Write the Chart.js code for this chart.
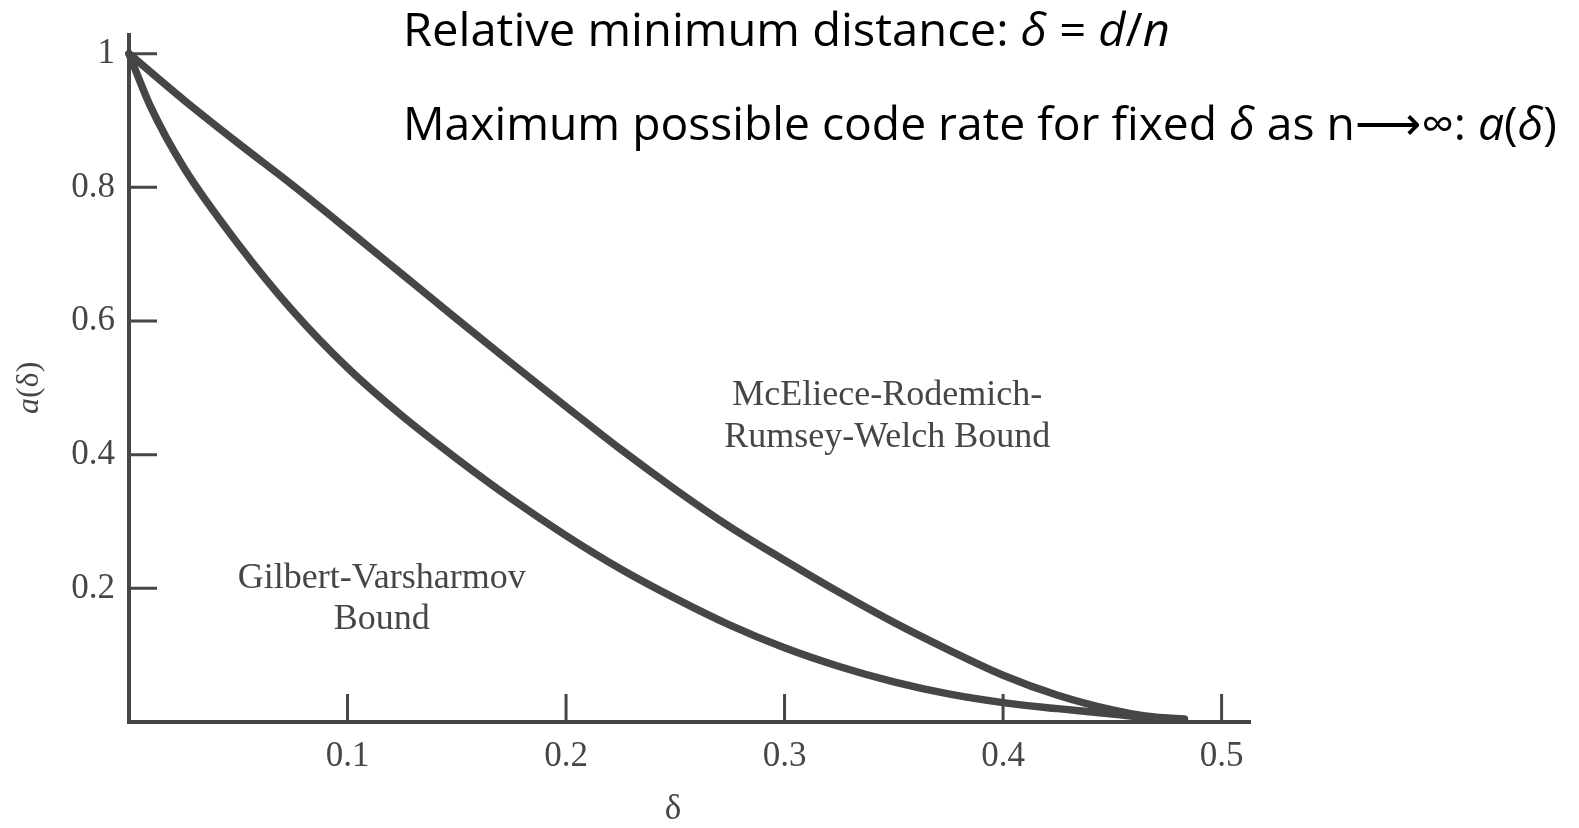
<!DOCTYPE html>
<html>
<head>
<meta charset="utf-8">
<title>Asymptotic bounds on code rate</title>
<script src="https://cdn.jsdelivr.net/npm/chart.js@4.4.1/dist/chart.umd.min.js"></script>
<style>
  html, body { margin: 0; padding: 0; background: #fff; }
  #wrap { position: relative; width: 1579px; height: 828px; overflow: hidden; }
  #wrap canvas { position: absolute; left: 0; top: 0; }
  .head {
    position: absolute;
    left: 403px;
    font-family: 'Open Sans', 'Noto Sans', sans-serif;
    font-size: 46px;
    line-height: 1;
    color: #000;
    white-space: nowrap;
    transform-origin: 0 0;
  }
  .head i { font-style: italic; }
</style>
</head>
<body>
<div id="wrap">
  <canvas id="bounds" width="1579" height="828"></canvas>
  <div class="head" id="h1" data-w="767" style="top:5px">Relative minimum distance: <i>δ</i> = <i>d</i>/<i>n</i></div>
  <div class="head" id="h2" data-w="1154" style="top:99px">Maximum possible code rate for fixed <i>δ</i> as n⟶∞: <i>a</i>(<i>δ</i>)</div>
</div>
<script>
// McEliece-Rodemich-Rumsey-Welch bound (upper curve)
const deltaMRRW = [0, 0.025, 0.05, 0.075, 0.1, 0.125, 0.15, 0.175, 0.2, 0.225, 0.25,
  0.275, 0.3, 0.325, 0.35, 0.375, 0.4, 0.425, 0.45, 0.465, 0.483];
const rateMRRW = [1.0, 0.931, 0.866, 0.803, 0.737, 0.67, 0.603, 0.537, 0.472, 0.408, 0.348,
  0.292, 0.242, 0.194, 0.149, 0.108, 0.07, 0.04, 0.018, 0.009, 0.004];

// Gilbert-Varsharmov bound (lower curve)
const deltaGV = [0, 0.01, 0.025, 0.05, 0.075, 0.1, 0.125, 0.15, 0.175, 0.2, 0.225, 0.25,
  0.275, 0.3, 0.325, 0.35, 0.375, 0.4, 0.425, 0.45, 0.465, 0.483];
const rateGV = [1.0, 0.92, 0.83, 0.715, 0.615, 0.53, 0.458, 0.394, 0.334, 0.279, 0.229, 0.185,
  0.145, 0.111, 0.083, 0.06, 0.042, 0.029, 0.02, 0.012, 0.007, 0.004];

const xTicks = [0.1, 0.2, 0.3, 0.4, 0.5];
const yTicks = [0.2, 0.4, 0.6, 0.8, 1];

const ink = '#464646';
const serif = "'Liberation Serif', 'Times New Roman', serif";

// 缩放标题文字，使宽度与原图一致
document.querySelectorAll('.head').forEach((el) => {
  const w = el.getBoundingClientRect().width;
  el.style.transform = `scaleX(${el.dataset.w / w})`;
});

const toPoints = (xs, ys) => xs.map((x, i) => ({ x, y: ys[i] }));

// curve names, split over two lines as in the figure
const notes = [
  { lines: ['McEliece-Rodemich-', 'Rumsey-Welch Bound'], x: 0.347, y: [0.489, 0.425] },
  { lines: ['Gilbert-Varsharmov', 'Bound'], x: 0.1157, y: [0.215, 0.154] },
];

// ticks pointing into the plot, axis titles and curve names
const decorations = {
  id: 'decorations',
  afterDraw(chart) {
    const { ctx, chartArea: a, scales: { x, y } } = chart;
    ctx.save();
    ctx.strokeStyle = ink;
    ctx.lineWidth = 3;
    ctx.beginPath();
    y.ticks.forEach((t) => {
      const py = y.getPixelForValue(t.value);
      ctx.moveTo(a.left, py);
      ctx.lineTo(a.left + 28, py);
    });
    x.ticks.forEach((t) => {
      const px = x.getPixelForValue(t.value);
      ctx.moveTo(px, a.bottom);
      ctx.lineTo(px, a.bottom - 28);
    });
    ctx.stroke();

    ctx.fillStyle = ink;
    ctx.textAlign = 'center';
    ctx.textBaseline = 'middle';
    ctx.font = `36px ${serif}`;
    notes.forEach((n) => {
      n.lines.forEach((line, i) => {
        ctx.fillText(line, x.getPixelForValue(n.x), y.getPixelForValue(n.y[i]));
      });
    });

    // x title
    ctx.font = `35px ${serif}`;
    ctx.fillText('δ', x.getPixelForValue(0.249), a.bottom + 88);

    // y title a(δ), rotated
    ctx.translate(30, y.getPixelForValue(0.5));
    ctx.rotate(-Math.PI / 2);
    ctx.textAlign = 'left';
    ctx.font = `italic 32px ${serif}`;
    const wa = ctx.measureText('a').width;
    ctx.font = `32px ${serif}`;
    const wr = ctx.measureText('(δ)').width;
    const x0 = -(wa + wr) / 2;
    ctx.font = `italic 32px ${serif}`;
    ctx.fillText('a', x0, 0);
    ctx.font = `32px ${serif}`;
    ctx.fillText('(δ)', x0 + wa, 0);
    ctx.restore();
  },
};

const lineStyle = {
  borderColor: ink,
  borderWidth: 7.5,
  pointRadius: 0,
  fill: false,
  cubicInterpolationMode: 'monotone',
  borderCapStyle: 'round',
  clip: false,
};

new Chart(document.getElementById('bounds'), {
  type: 'line',
  data: {
    datasets: [
      { label: 'McEliece-Rodemich-Rumsey-Welch Bound', data: toPoints(deltaMRRW, rateMRRW), ...lineStyle },
      { label: 'Gilbert-Varsharmov Bound', data: toPoints(deltaGV, rateGV), ...lineStyle },
    ],
  },
  options: {
    responsive: false,
    animation: false,
    layout: { padding: { left: 0, right: 329, top: 28, bottom: 0 } },
    plugins: { legend: { display: false }, tooltip: { enabled: false } },
    scales: {
      x: {
        type: 'linear',
        min: 0,
        max: 0.513,
        afterBuildTicks: (s) => { s.ticks = xTicks.map((v) => ({ value: v })); },
        afterFit: (s) => { s.height = 106; },
        grid: { display: false, drawTicks: false, tickLength: 0 },
        border: { display: true, color: ink, width: 4 },
        ticks: {
          color: ink,
          padding: 14,
          maxRotation: 0,
          font: { family: serif, size: 35 },
          callback: (v) => v.toFixed(1),
        },
      },
      y: {
        type: 'linear',
        min: 0,
        max: 1.028,
        afterBuildTicks: (s) => { s.ticks = yTicks.map((v) => ({ value: v })); },
        afterFit: (s) => { s.width = 129; },
        grid: { display: false, drawTicks: false, tickLength: 0 },
        border: { display: true, color: ink, width: 4 },
        ticks: {
          color: ink,
          padding: 14,
          font: { family: serif, size: 35 },
          callback: (v) => (v === 1 ? '1' : v.toFixed(1)),
        },
      },
    },
  },
  plugins: [decorations],
});
</script>
</body>
</html>
